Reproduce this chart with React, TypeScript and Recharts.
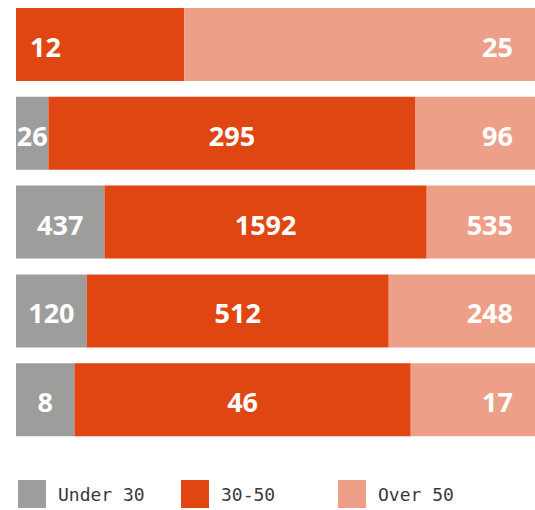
import { BarChart, Bar, XAxis, YAxis, LabelList } from 'recharts';

// rows top to bottom, counts shown on the bars
const rows = ['row1', 'row2', 'row3', 'row4', 'row5'];
const under30 = [0, 26, 437, 120, 8];
const age30to50 = [12, 295, 1592, 512, 46];
const over50 = [25, 96, 535, 248, 17];

const seriesNames = ['Under 30', '30-50', 'Over 50'];
const colors = ['#9d9d9c', '#e04612', '#eda087'];

const chartData = rows.map((name, i) => ({
  name,
  under30: under30[i],
  mid: age30to50[i],
  over50: over50[i],
}));

const LEFT = 16;

const labelFont = {
  fontFamily: '"Open Sans", sans-serif',
  fontWeight: 700,
  fontSize: 27,
  fill: '#ffffff',
};

// align: 'center' | 'end'; a segment starting at the bar's left edge is left aligned
function makeLabel(align: 'center' | 'end', leftAlignFirst = false) {
  return (props: any) => {
    const x = Number(props.x);
    const y = Number(props.y);
    const width = Number(props.width);
    const height = Number(props.height);
    const v = Array.isArray(props.value) ? null : props.value;
    if (!v || !width) return null;
    let tx = x + width / 2;
    let anchor: 'middle' | 'start' | 'end' = 'middle';
    if (align === 'end') {
      tx = x + width - 22;
      anchor = 'end';
    } else if (leftAlignFirst && x <= LEFT + 0.5) {
      tx = x + 14;
      anchor = 'start';
    }
    return (
      <text
        x={tx}
        y={y + height / 2 + 2}
        textAnchor={anchor}
        dominantBaseline="central"
        {...labelFont}
      >
        {v}
      </text>
    );
  };
}

export default function App() {
  return (
    <div style={{ position: 'absolute', left: 0, top: 0, width: 535, height: 510, background: '#fff' }}>
      <BarChart
        width={535}
        height={510}
        data={chartData}
        layout="vertical"
        stackOffset="expand"
        barSize={73}
        margin={{ top: 0, right: 0, left: LEFT, bottom: 66 }}
      >
        <XAxis type="number" hide domain={[0, 1]} />
        <YAxis type="category" dataKey="name" hide />
        <Bar dataKey="under30" stackId="a" fill={colors[0]} isAnimationActive={false}>
          <LabelList dataKey="under30" content={makeLabel('center')} />
        </Bar>
        <Bar dataKey="mid" stackId="a" fill={colors[1]} isAnimationActive={false}>
          <LabelList dataKey="mid" content={makeLabel('center', true)} />
        </Bar>
        <Bar dataKey="over50" stackId="a" fill={colors[2]} isAnimationActive={false}>
          <LabelList dataKey="over50" content={makeLabel('end')} />
        </Bar>
      </BarChart>

      {/* legend */}
      {seriesNames.map((s, i) => (
        <div
          key={s}
          style={{
            position: 'absolute',
            top: 480,
            left: [18, 181, 338][i],
            display: 'flex',
            alignItems: 'center',
            fontFamily: '"DejaVu Sans Mono", monospace',
            fontSize: 18,
            color: '#3a3a3a',
          }}
        >
          <span style={{ display: 'inline-block', width: 28, height: 28, background: colors[i], marginRight: 12 }} />
          <span>{s}</span>
        </div>
      ))}
    </div>
  );
}
